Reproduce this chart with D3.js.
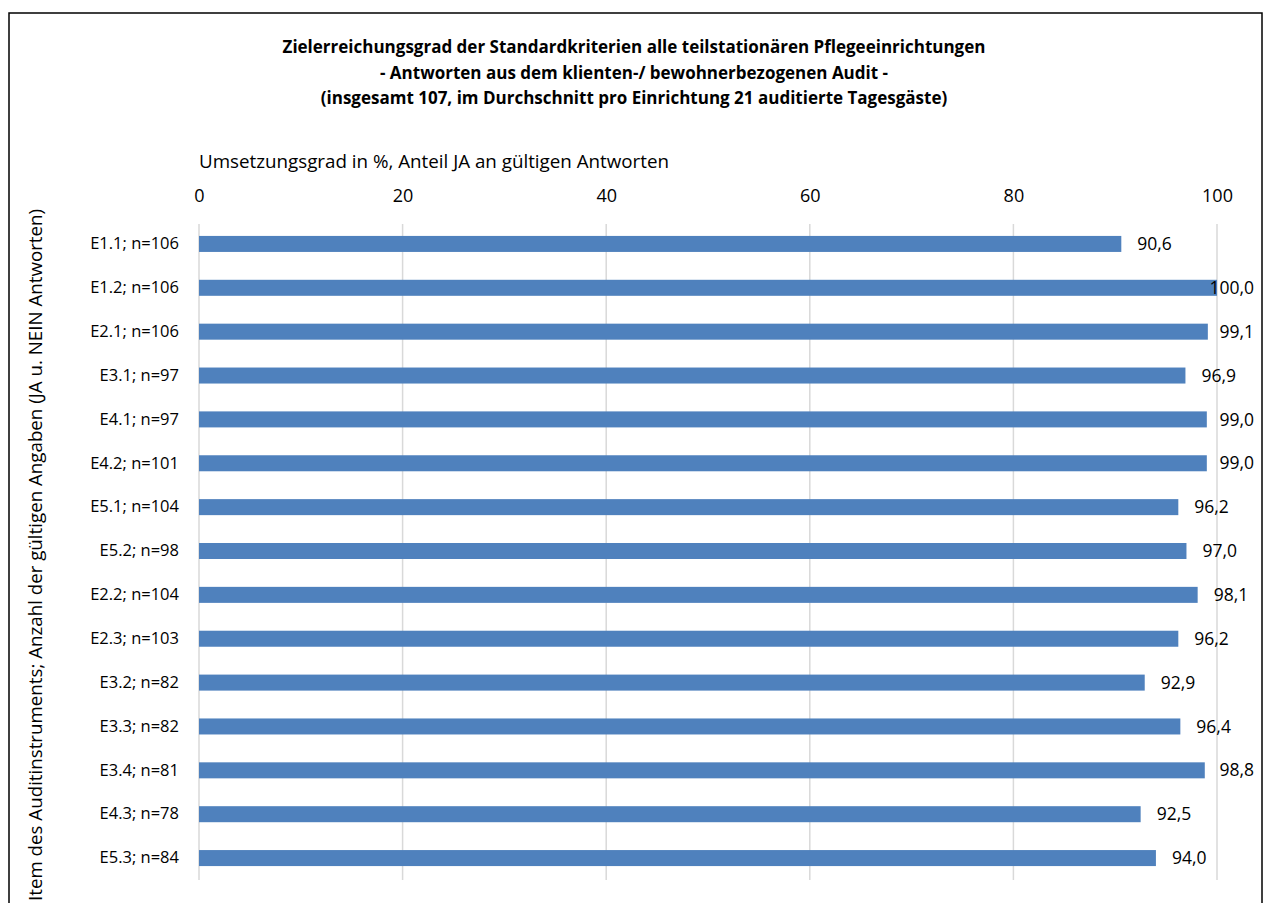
<!DOCTYPE html>
<html>
<head>
<meta charset="utf-8">
<script src="https://cdn.jsdelivr.net/npm/d3@7.9.0/dist/d3.min.js"></script>
<style>
  body { margin: 0; background: #fff; }
  svg { font-family: "Open Sans", "DejaVu Sans", sans-serif; }
</style>
</head>
<body>
<svg id="chart"></svg>
<script>
// items of the audit instrument, with number of valid answers
const items = ["E1.1; n=106", "E1.2; n=106", "E2.1; n=106", "E3.1; n=97", "E4.1; n=97",
  "E4.2; n=101", "E5.1; n=104", "E5.2; n=98", "E2.2; n=104", "E2.3; n=103",
  "E3.2; n=82", "E3.3; n=82", "E3.4; n=81", "E4.3; n=78", "E5.3; n=84"];
const values = [90.6, 100.0, 99.1, 96.9, 99.0, 99.0, 96.2, 97.0, 98.1, 96.2,
  92.9, 96.4, 98.8, 92.5, 94.0];
const xTicks = [0, 20, 40, 60, 80, 100];

const titleLines = [
  "Zielerreichungsgrad der Standardkriterien alle teilstationären Pflegeeinrichtungen",
  "- Antworten aus dem klienten-/ bewohnerbezogenen Audit -",
  "(insgesamt 107, im Durchschnitt pro Einrichtung 21 auditierte Tagesgäste)"
];

const width = 1266, height = 903;
const svg = d3.select("#chart").attr("width", width).attr("height", height);

// outer frame (bottom runs past the picture)
svg.append("rect")
  .attr("x", 9).attr("y", 13)
  .attr("width", 1253).attr("height", 920)
  .attr("fill", "none").attr("stroke", "#000").attr("stroke-width", 1.5);

// title
svg.append("g").selectAll("text")
  .data(titleLines)
  .join("text")
  .attr("x", 634)
  .attr("y", (d, i) => 53 + i * 25.5)
  .attr("text-anchor", "middle")
  .attr("font-size", 17)
  .attr("font-weight", "bold")
  .attr("fill", "#000")
  .text(d => d);

const x = d3.scaleLinear().domain([0, 100]).range([199, 1217]);
const y = d3.scaleBand().domain(items).range([222, 880]).paddingInner(0.635).paddingOuter(0.3175);

// gridlines
svg.append("g").selectAll("line")
  .data(xTicks)
  .join("line")
  .attr("x1", d => x(d)).attr("x2", d => x(d))
  .attr("y1", 224).attr("y2", 880)
  .attr("stroke", "#d9d9d9").attr("stroke-width", 1.5);

// top axis labels
const xAxis = svg.append("g")
  .attr("transform", "translate(0,202)")
  .call(d3.axisTop(x).tickValues(xTicks).tickSize(0).tickPadding(0));
xAxis.select(".domain").remove();
xAxis.selectAll("text")
  .attr("font-family", "'Open Sans', sans-serif")
  .attr("font-size", 18)
  .attr("fill", "#000");

svg.append("text")
  .attr("x", 199).attr("y", 168)
  .attr("font-size", 18)
  .attr("fill", "#000")
  .attr("textLength", 470)
  .attr("lengthAdjust", "spacingAndGlyphs")
  .text("Umsetzungsgrad in %, Anteil JA an gültigen Antworten");

// bars
svg.append("g").selectAll("rect")
  .data(values)
  .join("rect")
  .attr("x", x(0))
  .attr("y", (d, i) => y(items[i]))
  .attr("width", d => x(d) - x(0))
  .attr("height", y.bandwidth())
  .attr("fill", "#4f81bd");

// category labels
const yAxis = svg.append("g")
  .attr("transform", "translate(179,0)")
  .call(d3.axisLeft(y).tickSize(0).tickPadding(0));
yAxis.select(".domain").remove();
yAxis.selectAll("text")
  .attr("font-family", "'Open Sans', sans-serif")
  .attr("font-size", 16.5)
  .attr("fill", "#000");

// value labels
const fmt = v => v.toFixed(1).replace(".", ",");
svg.append("g").selectAll("text")
  .data(values)
  .join("text")
  .attr("y", (d, i) => y(items[i]) + y.bandwidth() / 2)
  .attr("dy", "0.35em")
  .attr("font-size", 17.5)
  .attr("fill", "#000")
  .text(d => fmt(d))
  .each(function (d) {
    const w = this.getComputedTextLength();
    d3.select(this).attr("x", Math.min(x(d) + 16, 1254 - w));
  });

// y axis title
svg.append("text")
  .attr("transform", "translate(42,555) rotate(-90)")
  .attr("text-anchor", "middle")
  .attr("font-size", 18)
  .attr("fill", "#000")
  .attr("textLength", 692)
  .attr("lengthAdjust", "spacingAndGlyphs")
  .text("Item des Auditinstruments; Anzahl der gültigen Angaben (JA u. NEIN Antworten)");
</script>
</body>
</html>
